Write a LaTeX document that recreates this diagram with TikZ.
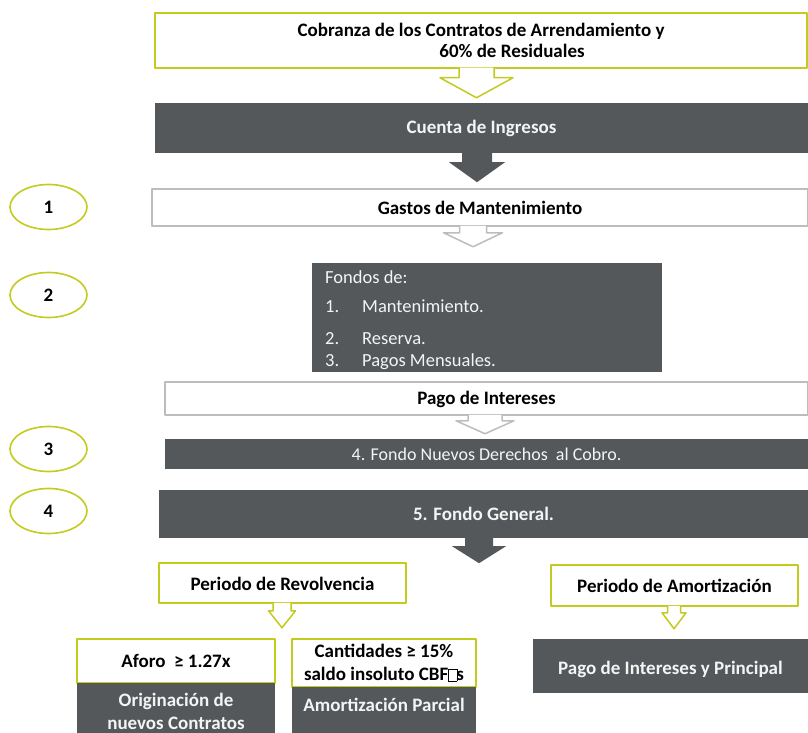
\documentclass[tikz,border=0pt]{standalone}
\usepackage{fontspec}
\setmainfont{Carlito}
\usetikzlibrary{shapes.geometric}
\definecolor{grisosc}{HTML}{54585A}
\definecolor{lima}{HTML}{C3CB1F}
\definecolor{grisclaro}{HTML}{BDBDBD}
\definecolor{blanco}{HTML}{F4F4F4}
\tikzset{
  caja/.style={draw=grisclaro, line width=1.5pt, fill=white, inner sep=0pt, font=\bfseries},
  cajaverde/.style={draw=lima, line width=1.5pt, fill=white, inner sep=0pt, font=\bfseries, align=center},
  oscuro/.style={fill=grisosc, text=blanco, inner sep=0pt, align=center},
  ovalo/.style={ellipse, draw=lima, line width=1.6pt, minimum width=77pt, minimum height=45pt, inner sep=0pt, font=\bfseries},
  verdeflecha/.style={draw=lima, fill=white, line width=1.5pt},
  grisflecha/.style={draw=grisclaro, fill=white, line width=1.5pt},
  oscflecha/.style={fill=grisosc, draw=none}
}
% flecha de bloque: estilo, nodo, dx, medio tallo, media punta, largo tallo, largo punta
\newcommand{\flecha}[7]{%
  \filldraw[#1, shift={(#2.south)}] (#3-#4,-1) -- (#3-#4,#6) -- (#3-#5,#6) -- (#3,#6+#7) -- (#3+#5,#6) -- (#3+#4,#6) -- (#3+#4,-1);
}
\newcommand{\cajita}{{\setlength{\fboxsep}{0pt}\setlength{\fboxrule}{0.6pt}\fbox{\rule{0pt}{0.6em}\hspace{0.42em}}}}
\newcommand{\normaltam}{\fontsize{18.5}{22}\selectfont}

\begin{document}
\fontsize{19}{22}\selectfont
\begin{tikzpicture}[line cap=round,line join=round,x=1pt,y=-1pt]
\clip (0,0) rectangle (808,733);
\fill[white] (0,0) rectangle (808,733);

% flujo principal
\node[cajaverde, minimum width=652, minimum height=55] (cobro) at (481,40.5)
  {Cobranza de los Contratos de Arrendamiento y\\[-1pt]\hspace*{62pt}60\% de Residuales};
\flecha{verdeflecha}{cobro}{-4.5}{17.5}{36.5}{9}{20}
\node[oscuro, font=\bfseries, minimum width=653, minimum height=50, text height=14pt, text depth=3pt] (ingresos) at (481.5,128) {Cuenta de Ingresos};
\flecha{oscflecha}{ingresos}{-4.5}{15}{28}{9}{20}
\node[caja, minimum width=656, minimum height=37] (gastos) at (480,207.5) {Gastos de Mantenimiento};
\flecha{grisflecha}{gastos}{-7}{13.5}{29.5}{6}{14}
\node[oscuro, minimum width=350, minimum height=109] (fondos) at (487,317.5) {};
\node[anchor=north west, text=blanco, align=left, inner sep=0pt, font=\normaltam] (fondostxt) at (325,270)
  {Fondos de:\\[7pt]
   \makebox[37pt][l]{1.}Mantenimiento.\\[10pt]
   \makebox[37pt][l]{2.}Reserva.\\
   \makebox[37pt][l]{3.}Pagos Mensuales.};
\node[caja, minimum width=643, minimum height=33, text height=14pt, text depth=3pt] (pago) at (486.5,398.5) {Pago de Intereses};
\flecha{grisflecha}{pago}{-1.5}{17}{29}{5}{13}
\node[oscuro, font=\fontsize{18}{22}\selectfont, minimum width=643, minimum height=30] (nuevos) at (486.5,454) {4. Fondo Nuevos Derechos~ al Cobro.};
\node[oscuro, font=\bfseries, minimum width=649, minimum height=48] (general) at (483.5,514) {5. Fondo General.};
\flecha{oscflecha}{general}{-4.5}{14}{27}{8}{17}

% periodos
\node[cajaverde, minimum width=247, minimum height=40, text height=16pt, text depth=2pt] (revolv) at (282.5,583) {Periodo de Revolvencia};
\flecha{verdeflecha}{revolv}{-0.5}{9}{13.5}{7}{17}
\node[cajaverde, minimum width=247, minimum height=41] (amortiz) at (674.5,585.5) {Periodo de Amortización};
\flecha{verdeflecha}{amortiz}{-0.5}{6.5}{12}{6}{16}

\node[cajaverde, minimum width=198, minimum height=44] (aforo) at (176,661) {Aforo~ ≥ 1.27x};
\node[oscuro, font=\bfseries, minimum width=198, minimum height=57] (origen) at (176,711.5)
  {Originación de\\[1pt] nuevos Contratos};
\node[cajaverde, minimum width=184, minimum height=48] (cantid) at (384,663)
  {Cantidades ≥ 15\%\\[1pt] saldo insoluto CBF\cajita\kern-1pt s};
\node[oscuro, font=\bfseries, minimum width=184, minimum height=47, text height=12pt, text depth=10pt] (parcial) at (384,710.5) {Amortización Parcial};
\node[oscuro, font=\bfseries, minimum width=275, minimum height=54, text height=21pt, text depth=4pt] (principal) at (670.5,666) {Pago de Intereses y Principal};

% numeros
\node[ovalo] (uno) at (48.5,207) {1};
\node[ovalo] (dos) at (48.5,295) {2};
\node[ovalo] (tres) at (48.5,449) {3};
\node[ovalo] (cuatro) at (48.5,511) {4};
\end{tikzpicture}
\end{document}
